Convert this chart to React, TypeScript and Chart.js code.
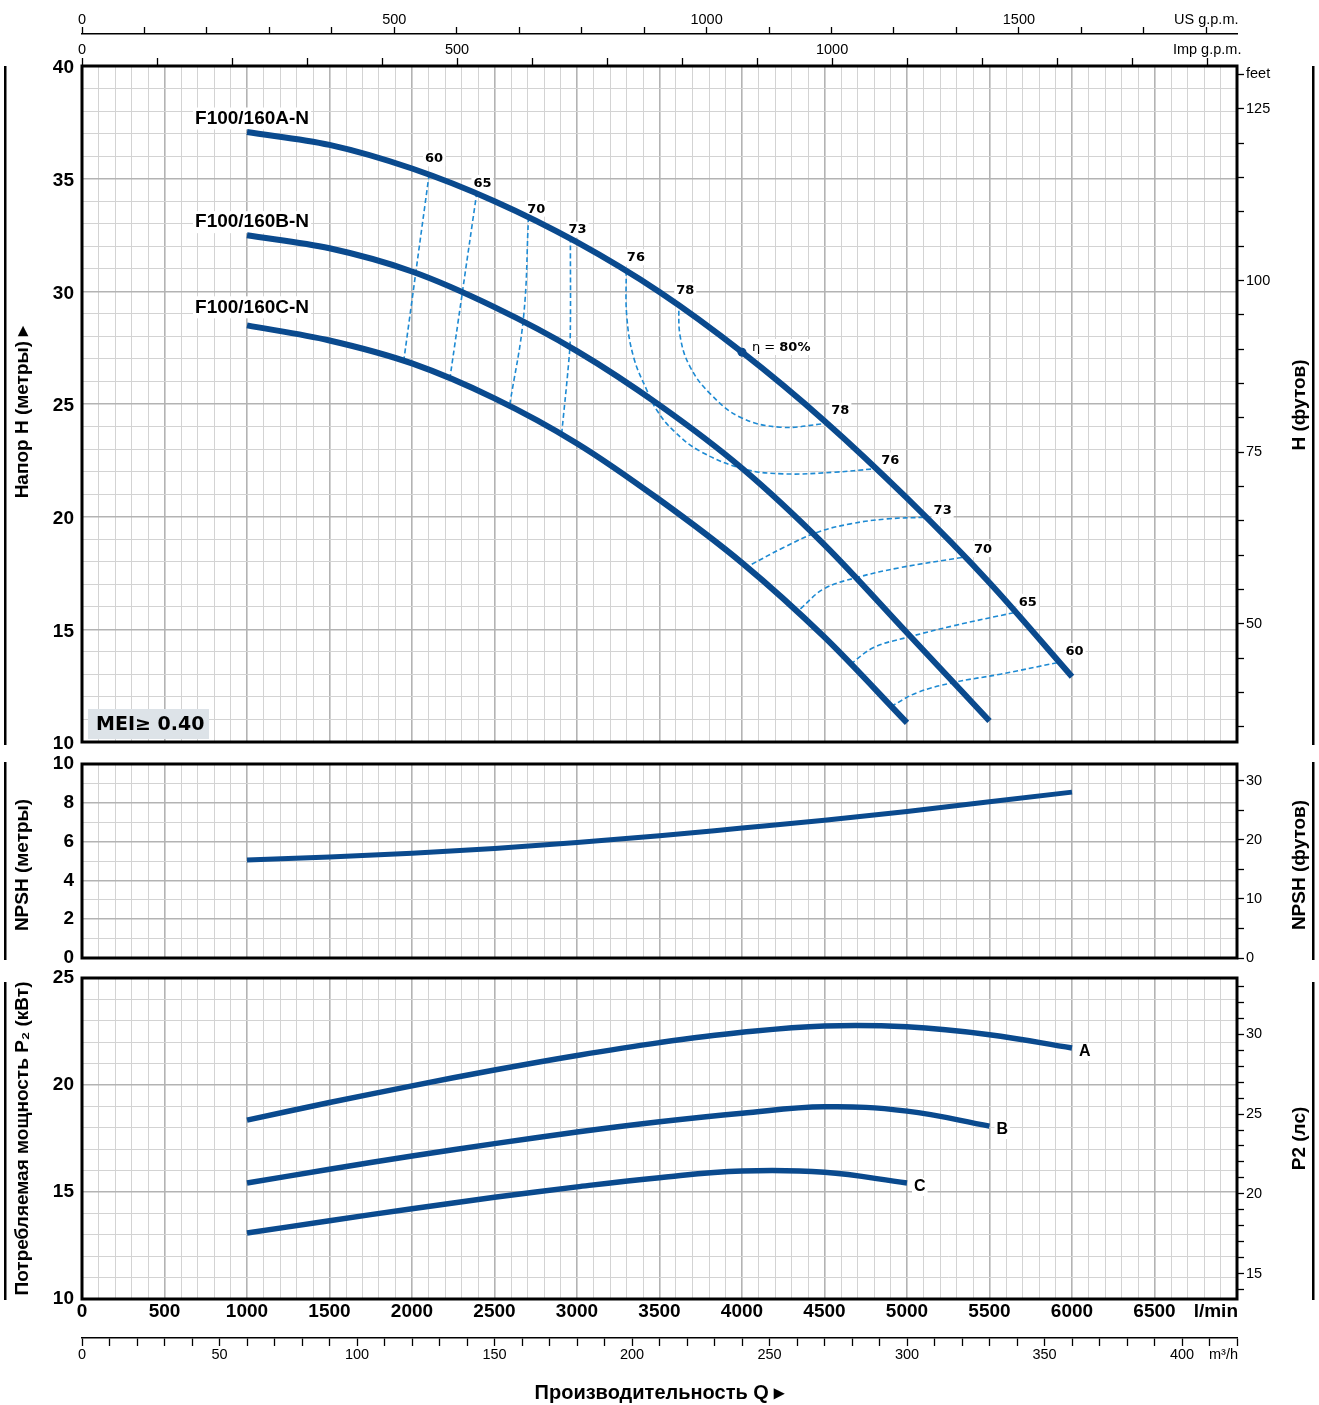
import React, { useEffect, useRef } from "react";
import { Chart, registerables } from "chart.js";

Chart.register(...registerables);

// ---------------- DATA ----------------
// Head curves (Q in l/min, H in m)
const flowA = [1000, 1500, 2000, 2500, 3000, 3500, 4000, 4500, 5000, 5500, 6000];
const headA = [37.07, 36.5, 35.45, 34.0, 32.18, 29.97, 27.3, 24.25, 20.82, 17.07, 12.9];
const flowB = [1000, 1500, 2000, 2500, 3000, 3500, 4000, 4500, 5000, 5500];
const headB = [32.49, 31.91, 30.88, 29.3, 27.35, 24.95, 22.15, 18.75, 14.85, 10.93];
const flowC = [1000, 1500, 2000, 2500, 3000, 3500, 4000, 4500, 5000];
const headC = [28.49, 27.82, 26.8, 25.25, 23.25, 20.75, 17.95, 14.65, 10.85];
const curveNames = ["F100/160A-N", "F100/160B-N", "F100/160C-N"];
const curveNameQ = [685, 685, 685];
const curveNameH = [37.67, 33.07, 29.29];

// Iso-efficiency lines: [Q l/min, H m]
const iso60L = [[2104, 35.2], [1952, 27.02]];
const iso65L = [[2393, 34.4], [2231, 26.2]];
const iso70L = [[2706, 33.3], [2676, 28.86], [2591, 24.9]];
const iso73L = [[2960, 32.4], [2959, 27.97], [2949, 26.8], [2908, 23.75]];
const iso76 = [[3298, 30.93], [3302, 28.86], [3343, 27.08], [3424, 25.6], [3485, 24.71], [3585, 23.82], [3747, 22.9], [4010, 22.12], [4252, 21.9], [4555, 21.97], [4798, 22.12]];
const iso78 = [[3616, 29.5], [3626, 27.97], [3686, 26.64], [3808, 25.45], [3990, 24.41], [4232, 23.97], [4495, 24.12]];
const iso73R = [[5101, 19.97], [4879, 19.9], [4657, 19.68], [4454, 19.3], [4252, 18.63], [4050, 17.85]];
const iso70R = [[5333, 18.19], [4960, 17.74], [4697, 17.3], [4495, 16.79], [4353, 15.9]];
const iso65R = [[5647, 15.74], [5283, 15.16], [5000, 14.64], [4798, 14.19], [4657, 13.45]];
const iso60R = [[5910, 13.52], [5566, 13.01], [5283, 12.64], [5061, 12.19], [4909, 11.6]];
const isoLines = [iso60L, iso65L, iso70L, iso73L, iso76, iso78, iso73R, iso70R, iso65R, iso60R];

const effLabelText = ["60", "65", "70", "73", "76", "78", "78", "76", "73", "70", "65", "60"];
const effLabelQ = [2134, 2427, 2753, 3003, 3357, 3656, 4596, 4899, 5216, 5461, 5732, 6015];
const effLabelH = [35.9, 34.81, 33.67, 32.74, 31.51, 30.04, 24.71, 22.49, 20.3, 18.56, 16.22, 14.04];
const bepQ = 4000;
const bepH = 27.3;
const bepLabel = ["η = ", "80%"];
const bepLabelQ = 4060;
const bepLabelH = 27.53;
const meiText = "MEI≥ 0.40";

// NPSH (m)
const npshFlow = [1000, 1500, 2000, 2500, 3000, 3500, 4000, 4500, 5000, 5500, 6000];
const npshM = [5.05, 5.2, 5.4, 5.65, 5.95, 6.3, 6.7, 7.1, 7.55, 8.05, 8.55];

// Power P2 (kW)
const powerA = [18.36, 19.18, 19.96, 20.7, 21.38, 21.98, 22.46, 22.76, 22.72, 22.35, 21.73];
const powerB = [15.42, 16.06, 16.68, 17.26, 17.8, 18.28, 18.68, 18.98, 18.78, 18.08];
const powerC = [13.08, 13.66, 14.22, 14.75, 15.24, 15.67, 15.98, 15.92, 15.42];
const powerLetters = ["A", "B", "C"];

// Axis labels
const flowTickLabels = [0, 500, 1000, 1500, 2000, 2500, 3000, 3500, 4000, 4500, 5000, 5500, 6000, 6500];
const usGpmLabels = [0, 500, 1000, 1500];
const impGpmLabels = [0, 500, 1000];
const m3hLabels = [0, 50, 100, 150, 200, 250, 300, 350, 400];
const headLabels = [10, 15, 20, 25, 30, 35, 40];
const feetLabels = [50, 75, 100, 125];
const npshLabels = [0, 2, 4, 6, 8, 10];
const npshFtLabels = [0, 10, 20, 30];
const powerLabels = [10, 15, 20, 25];
const hpLabels = [15, 20, 25, 30];

// ---------------- STYLE ----------------
const BLUE = "#0a4a8e";
const DASH = "#1d8ad3";
const GRID_MINOR = "#d3d3d3";
const GRID_MAJOR = "#b3b3b3";
const SANS = "'Liberation Sans', Arial, Helvetica, sans-serif";
const WIDE = "'DejaVu Sans', Verdana, sans-serif";
const US_GAL = 3.785411784;
const IMP_GAL = 4.54609;
const FT = 0.3048;
const HP = 0.745699872;

Chart.defaults.color = "#000";
Chart.defaults.font.family = SANS;

function steps(a: number, b: number, s: number) {
  const out: number[] = [];
  for (let v = a; v <= b + 1e-9; v += s) out.push(Math.round(v * 1000) / 1000);
  return out;
}
function fixSize(size: number) {
  return (s: any) => {
    if (s.isHorizontal()) s.height = size;
    else s.width = size;
    s.paddingLeft = 0;
    s.paddingRight = 0;
    s.paddingTop = 0;
    s.paddingBottom = 0;
  };
}
function setTicks(values: number[]) {
  return (s: any) => {
    s.ticks = values.map((v) => ({ value: v }));
  };
}
const pts = (xs: number[], ys: number[]) => xs.map((x, i) => ({ x, y: ys[i] }));
const pairPts = (arr: number[][]) => arr.map(([x, y]) => ({ x, y }));
const near = (v: number, list: number[]) => list.some((l) => Math.abs(l - v) < 1e-6);
const isMajor = (c: any, step: number) =>
  c.tick && Math.abs(c.tick.value / step - Math.round(c.tick.value / step)) < 1e-6;

function gridStyle(majorStep: number) {
  return {
    color: (c: any) => (isMajor(c, majorStep) ? GRID_MAJOR : GRID_MINOR),
    lineWidth: (c: any) => (isMajor(c, majorStep) ? 1.6 : 1),
    drawTicks: false,
  };
}

const AXIS_BOLD = { family: SANS, size: 19, weight: "bold", lineHeight: 1 };
const AXIS_REG = { family: SANS, size: 14.5, lineHeight: 1 };

function flowAxis(height: number, showLabels: boolean) {
  return {
    type: "linear",
    position: "bottom",
    weight: 0,
    min: 0,
    max: 7000,
    afterBuildTicks: setTicks(steps(0, 7000, 100)),
    afterFit: fixSize(height),
    grid: gridStyle(500),
    border: { display: false },
    ticks: {
      display: showLabels,
      autoSkip: false,
      maxRotation: 0,
      minRotation: 0,
      padding: 3,
      font: AXIS_BOLD,
      callback: (v: number) => (near(v, flowTickLabels) ? String(v) : ""),
    },
  };
}
function leftAxis(min: number, max: number, step: number, major: number, labels: number[], labelOffset: number) {
  return {
    type: "linear",
    position: "left",
    min,
    max,
    afterBuildTicks: setTicks(steps(min, max, step)),
    afterFit: fixSize(82),
    grid: gridStyle(major),
    border: { display: false },
    ticks: {
      autoSkip: false,
      padding: 8,
      labelOffset,
      font: AXIS_BOLD,
      callback: (v: number) => (near(v, labels) ? String(v) : ""),
    },
  };
}
function rightAxis(min: number, max: number, tickVals: number[], labelFn: (v: number) => string) {
  return {
    type: "linear",
    position: "right",
    min,
    max,
    afterBuildTicks: setTicks(tickVals),
    afterFit: fixSize(82),
    grid: { drawOnChartArea: false, drawTicks: true, tickLength: 7, tickColor: "#000", tickWidth: 1.3 },
    border: { display: false },
    ticks: {
      autoSkip: false,
      padding: 2,
      font: AXIS_REG,
      callback: labelFn,
    },
  };
}

function curveDs(xs: number[], ys: number[], width: number, smooth: "monotone" | "tension") {
  return {
    data: pts(xs, ys),
    borderColor: BLUE,
    borderWidth: width,
    pointRadius: 0,
    cubicInterpolationMode: smooth === "monotone" ? "monotone" : "default",
    tension: smooth === "tension" ? 0.4 : 0,
    fill: false,
    xAxisID: "x",
    yAxisID: "y",
  };
}

function drawFrame(ctx: CanvasRenderingContext2D, a: any) {
  ctx.save();
  ctx.strokeStyle = "#000";
  ctx.lineWidth = 3;
  ctx.strokeRect(a.left, a.top, a.right - a.left, a.bottom - a.top);
  ctx.restore();
}
function vText(ctx: CanvasRenderingContext2D, text: string, x: number, y: number, font: string) {
  ctx.save();
  ctx.translate(x, y);
  ctx.rotate(-Math.PI / 2);
  ctx.font = font;
  ctx.fillStyle = "#000";
  ctx.textAlign = "center";
  ctx.textBaseline = "middle";
  ctx.fillText(text, 0, 0);
  ctx.restore();
}
function sideDecor(
  ctx: CanvasRenderingContext2D,
  a: any,
  leftTitle: string,
  rightTitle: string,
  t0: number,
  t1: number,
  leftShift: number,
  rightShift: number
) {
  ctx.save();
  ctx.fillStyle = "#000";
  ctx.fillRect(4, a.top + t0, 2.5, a.bottom - a.top - t0 + t1);
  ctx.fillRect(1312, a.top + t0, 2.5, a.bottom - a.top - t0 + t1);
  ctx.restore();
  const cy = (a.top + a.bottom) / 2;
  const f = `bold 19px ${SANS}`;
  vText(ctx, leftTitle, 23, cy + leftShift, f);
  vText(ctx, rightTitle, 1300, cy + rightShift, f);
}

const NAME_FONT = `bold 19px ${SANS}`;
const EFF_FONT = `bold 13px ${WIDE}`;
const EFF_FONT_REG = `13px ${WIDE}`;

const headDecor = {
  id: "headDecor",
  beforeDatasetsDraw(chart: any) {
    const { ctx, chartArea: a, scales } = chart;
    const x = scales.x;
    const y = scales.y;
    ctx.save();
    ctx.fillStyle = "#fff";
    ctx.font = NAME_FONT;
    curveNames.forEach((t, i) => {
      const px = x.getPixelForValue(curveNameQ[i]);
      const py = y.getPixelForValue(curveNameH[i]);
      const w = ctx.measureText(t).width;
      ctx.fillRect(px - 2, py - 11, w + 4, 22);
    });
    ctx.font = EFF_FONT;
    effLabelText.forEach((t, i) => {
      const px = x.getPixelForValue(effLabelQ[i]);
      const py = y.getPixelForValue(effLabelH[i]);
      const w = ctx.measureText(t).width;
      ctx.fillRect(px - w / 2 - 2, py - 8, w + 4, 16);
    });
    {
      const px = x.getPixelForValue(bepLabelQ);
      const py = y.getPixelForValue(bepLabelH);
      ctx.font = EFF_FONT_REG;
      const w1 = ctx.measureText(bepLabel[0]).width;
      ctx.font = EFF_FONT;
      const w2 = ctx.measureText(bepLabel[1]).width;
      ctx.fillRect(px - 2, py - 8, w1 + w2 + 4, 16);
    }
    ctx.fillStyle = "#dde3e8";
    ctx.fillRect(a.left + 6, a.bottom - 33, 121, 30);
    ctx.restore();
  },
  afterDatasetsDraw(chart: any) {
    const { ctx, chartArea: a, scales } = chart;
    const x = scales.x;
    const y = scales.y;
    ctx.save();
    ctx.fillStyle = "#000";
    ctx.textBaseline = "middle";
    ctx.textAlign = "left";
    ctx.font = NAME_FONT;
    curveNames.forEach((t, i) => {
      ctx.fillText(t, x.getPixelForValue(curveNameQ[i]), y.getPixelForValue(curveNameH[i]));
    });
    ctx.font = EFF_FONT;
    ctx.textAlign = "center";
    effLabelText.forEach((t, i) => {
      ctx.fillText(t, x.getPixelForValue(effLabelQ[i]), y.getPixelForValue(effLabelH[i]) + 0.5);
    });
    ctx.textAlign = "left";
    {
      const px = x.getPixelForValue(bepLabelQ);
      const py = y.getPixelForValue(bepLabelH) + 0.5;
      ctx.font = EFF_FONT_REG;
      ctx.fillText(bepLabel[0], px, py);
      const w1 = ctx.measureText(bepLabel[0]).width;
      ctx.font = EFF_FONT;
      ctx.fillText(bepLabel[1], px + w1, py);
    }
    ctx.font = `bold 19px ${WIDE}`;
    ctx.fillText(meiText, a.left + 14, a.bottom - 17);
    ctx.restore();
    drawFrame(ctx, a);
  },
  afterDraw(chart: any) {
    sideDecor(chart.ctx, chart.chartArea, "Напор H (метры) ▸", "H (футов)", 0, 3, 8, 1);
  },
};

const npshDecor = {
  id: "npshDecor",
  afterDatasetsDraw(chart: any) {
    drawFrame(chart.ctx, chart.chartArea);
  },
  afterDraw(chart: any) {
    sideDecor(chart.ctx, chart.chartArea, "NPSH (метры)", "NPSH (футов)", -2, 2, 4, 4);
  },
};

const powerDecor = {
  id: "powerDecor",
  afterDatasetsDraw(chart: any) {
    const { ctx, chartArea: a, scales } = chart;
    const x = scales.x;
    const y = scales.y;
    const ends = [
      [flowA[flowA.length - 1], powerA[powerA.length - 1]],
      [flowB[flowB.length - 1], powerB[powerB.length - 1]],
      [flowC[flowC.length - 1], powerC[powerC.length - 1]],
    ];
    ctx.save();
    ctx.font = `bold 16px ${SANS}`;
    ctx.textBaseline = "middle";
    ctx.textAlign = "left";
    ends.forEach(([q, p], i) => {
      const px = x.getPixelForValue(q) + 7;
      const py = y.getPixelForValue(p) + 4;
      const w = ctx.measureText(powerLetters[i]).width;
      ctx.fillStyle = "#fff";
      ctx.fillRect(px - 2, py - 9, w + 4, 18);
      ctx.fillStyle = "#000";
      ctx.fillText(powerLetters[i], px, py);
    });
    ctx.textAlign = "right";
    ctx.font = `bold 19px ${SANS}`;
    ctx.fillText("l/min", a.right + 1, a.bottom + 12.5);
    ctx.font = `14.5px ${SANS}`;
    ctx.fillText("m³/h", a.right + 1, a.bottom + 56);
    ctx.restore();
    drawFrame(ctx, a);
  },
  afterDraw(chart: any) {
    sideDecor(chart.ctx, chart.chartArea, "Потребляемая мощность P₂ (кВт)", "P2 (лс)", 4, 1, 0, 0);
  },
};

function baseOptions(layoutPadding: any, scales: any) {
  return {
    responsive: false,
    animation: false,
    devicePixelRatio: 1,
    layout: { padding: layoutPadding },
    plugins: { legend: { display: false }, tooltip: { enabled: false } },
    events: [],
    scales,
  };
}

function headConfig(): any {
  return {
    type: "line",
    data: {
      datasets: [
        { data: [{ x: bepQ, y: bepH }], showLine: false, pointRadius: 4.5, pointBackgroundColor: BLUE, pointBorderWidth: 0, xAxisID: "x", yAxisID: "y" },
        curveDs(flowA, headA, 6, "monotone"),
        curveDs(flowB, headB, 6, "monotone"),
        curveDs(flowC, headC, 6, "monotone"),
        ...isoLines.map((l) => ({
          data: pairPts(l),
          borderColor: DASH,
          borderWidth: 1.6,
          borderDash: [5, 3],
          pointRadius: 0,
          tension: 0.4,
          fill: false,
          xAxisID: "x",
          yAxisID: "y",
        })),
      ],
    },
    options: baseOptions(
      { left: 0, right: 0, top: 0, bottom: 8 },
      {
        x: flowAxis(0, false),
        y: leftAxis(10, 40, 1, 5, headLabels, 2),
        xUS: {
          type: "linear",
          position: "top",
          weight: 2,
          min: 0,
          max: 7000 / US_GAL,
          afterBuildTicks: setTicks(steps(0, 1800, 100)),
          afterFit: fixSize(34),
          grid: { drawOnChartArea: false, drawTicks: true, tickLength: 7, tickColor: "#000", tickWidth: 1.3 },
          border: { display: true, color: "#000", width: 1.5 },
          ticks: {
            autoSkip: false,
            maxRotation: 0,
            padding: 0,
            font: AXIS_REG,
            callback: (v: number) => (Math.abs(v - 1800) < 1e-6 ? "US g.p.m." : near(v, usGpmLabels) ? String(v) : ""),
          },
        },
        xImp: {
          type: "linear",
          position: "top",
          weight: 1,
          min: 0,
          max: 7000 / IMP_GAL,
          afterBuildTicks: setTicks(steps(0, 1500, 100)),
          afterFit: fixSize(32),
          grid: { drawOnChartArea: false, drawTicks: true, tickLength: 8, tickColor: "#000", tickWidth: 1.3 },
          border: { display: false },
          ticks: {
            autoSkip: false,
            maxRotation: 0,
            padding: 1,
            font: AXIS_REG,
            callback: (v: number) => (Math.abs(v - 1500) < 1e-6 ? "Imp g.p.m." : near(v, impGpmLabels) ? String(v) : ""),
          },
        },
        yFt: rightAxis(10 / FT, 40 / FT, steps(35, 130, 5), (v: number) =>
          Math.abs(v - 130) < 1e-6 ? "feet" : near(v, feetLabels) ? String(v) : ""
        ),
      }
    ),
    plugins: [headDecor],
  };
}

function npshConfig(): any {
  return {
    type: "line",
    data: { datasets: [curveDs(npshFlow, npshM, 5, "monotone")] },
    options: baseOptions(
      { left: 0, right: 0, top: 14, bottom: 7 },
      {
        x: flowAxis(0, false),
        y: leftAxis(0, 10, 1, 2, npshLabels, 0),
        yFt: rightAxis(0, 10 / FT, steps(0, 30, 5), (v: number) => (near(v, npshFtLabels) ? String(v) : "")),
      }
    ),
    plugins: [npshDecor],
  };
}

function powerConfig(): any {
  return {
    type: "line",
    data: {
      datasets: [
        curveDs(flowA, powerA, 5.5, "tension"),
        curveDs(flowB, powerB, 5.5, "tension"),
        curveDs(flowC, powerC, 5.5, "tension"),
      ],
    },
    options: baseOptions(
      { left: 0, right: 0, top: 13, bottom: 0 },
      {
        x: flowAxis(39, true),
        y: leftAxis(10, 25, 1, 5, powerLabels, 0),
        xM3: {
          type: "linear",
          position: "bottom",
          weight: 1,
          min: 0,
          max: 420,
          afterBuildTicks: setTicks(steps(0, 420, 10)),
          afterFit: fixSize(67),
          grid: { drawOnChartArea: false, drawTicks: true, tickLength: 8, tickColor: "#000", tickWidth: 1.3 },
          border: { display: true, color: "#000", width: 1.5 },
          ticks: {
            autoSkip: false,
            maxRotation: 0,
            padding: 2,
            font: AXIS_REG,
            callback: (v: number) => (near(v, m3hLabels) ? String(v) : ""),
          },
          title: {
            display: true,
            text: "Производительность Q ▸",
            font: { family: SANS, size: 20, weight: "bold", lineHeight: 1 },
            padding: { top: 0, bottom: 2 },
          },
        },
        yHp: rightAxis(10 / HP, 25 / HP, steps(14, 33, 1), (v: number) => (near(v, hpLabels) ? String(v) : "")),
      }
    ),
    plugins: [powerDecor],
  };
}

export default function App() {
  const r1 = useRef<HTMLCanvasElement>(null);
  const r2 = useRef<HTMLCanvasElement>(null);
  const r3 = useRef<HTMLCanvasElement>(null);
  useEffect(() => {
    const charts = [
      new Chart(r1.current as HTMLCanvasElement, headConfig()),
      new Chart(r2.current as HTMLCanvasElement, npshConfig()),
      new Chart(r3.current as HTMLCanvasElement, powerConfig()),
    ];
    return () => charts.forEach((c) => c.destroy());
  }, []);
  const cs: React.CSSProperties = { position: "absolute", left: 0 };
  return (
    <div style={{ position: "absolute", left: 0, top: 0, width: 1319, height: 1405, background: "#fff", overflow: "hidden" }}>
      <canvas ref={r1} width={1319} height={750} style={{ ...cs, top: 0 }} />
      <canvas ref={r2} width={1319} height={215} style={{ ...cs, top: 750 }} />
      <canvas ref={r3} width={1319} height={440} style={{ ...cs, top: 965 }} />
    </div>
  );
}
